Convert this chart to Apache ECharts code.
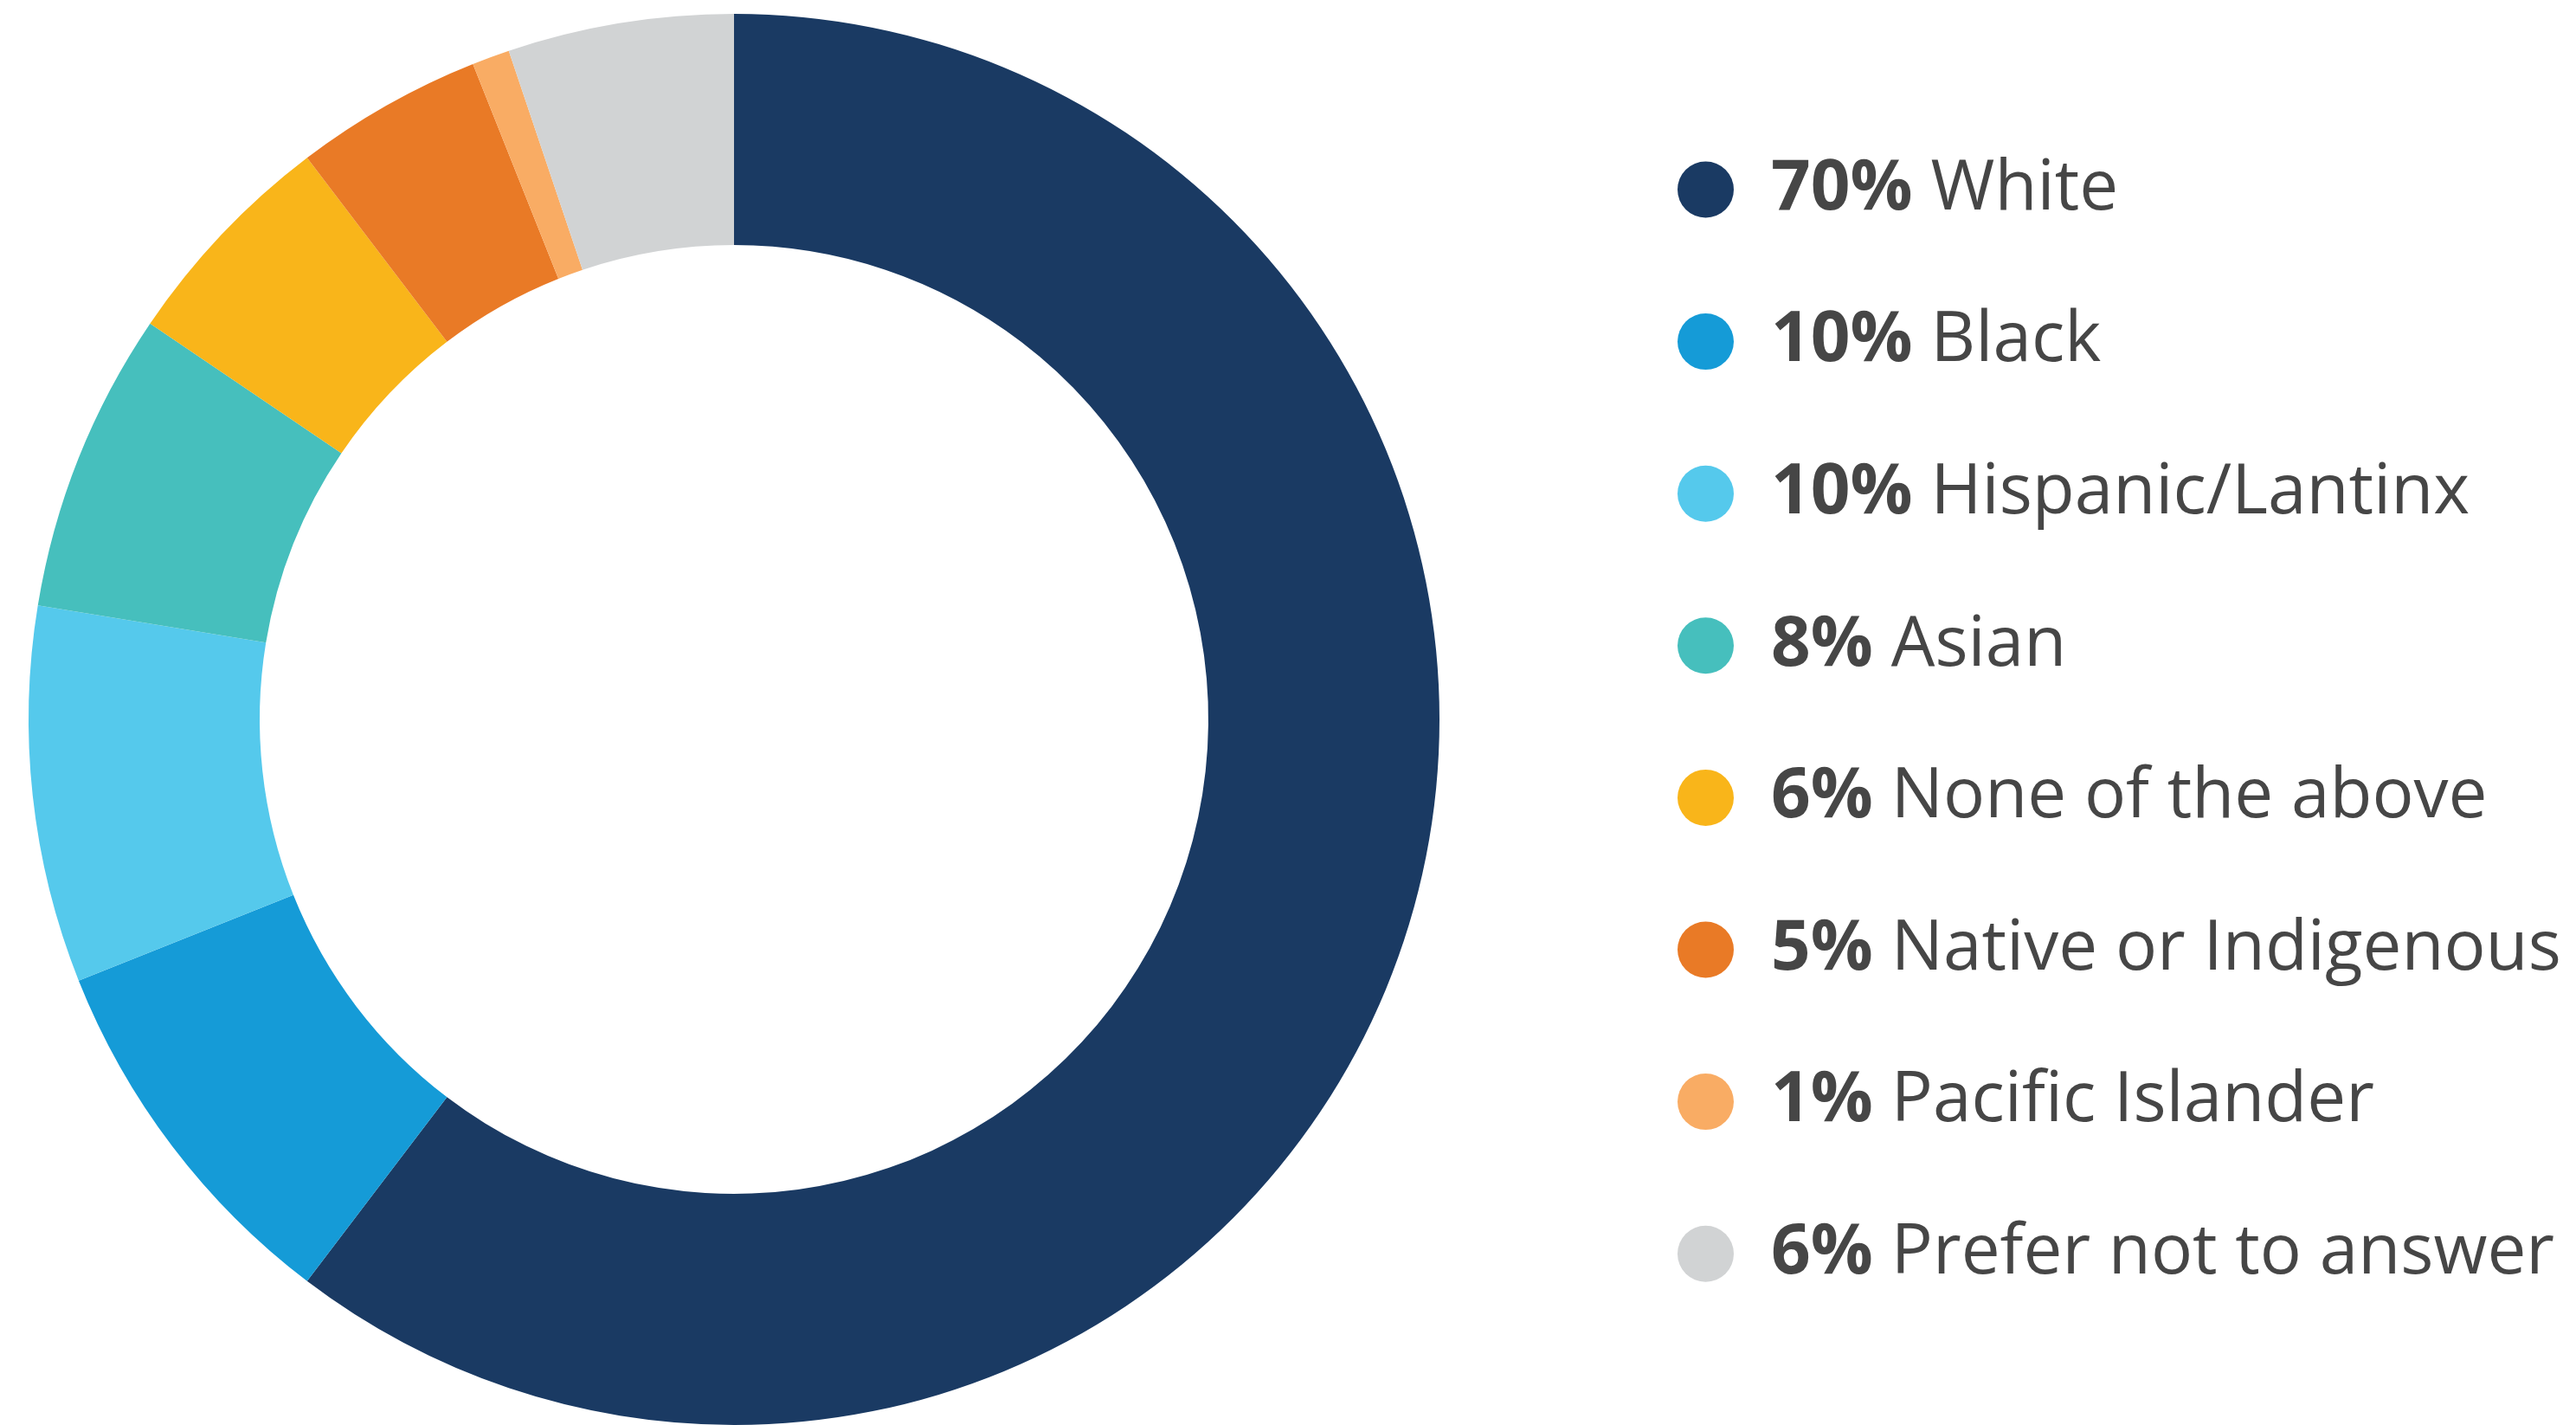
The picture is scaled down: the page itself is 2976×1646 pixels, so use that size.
<!DOCTYPE html>
<html>
<head>
<meta charset="utf-8">
<script src="https://cdn.jsdelivr.net/npm/echarts@6/dist/echarts.min.js"></script>
<style>
  html, body { margin: 0; padding: 0; background: #fff; }
  #chart { width: 2976px; height: 1646px; }
</style>
</head>
<body>
<div id="chart"></div>
<script>
const categories = ['White', 'Black', 'Hispanic/Lantinx', 'Asian', 'None of the above', 'Native or Indigenous', 'Pacific Islander', 'Prefer not to answer']
const percents = [70, 10, 10, 8, 6, 5, 1, 6]
const colors = ['#1a3a63', '#159bd7', '#55c9ec', '#46bfbd', '#f9b51a', '#e97a26', '#f9ac64', '#d1d3d4']

const chart = echarts.init(document.getElementById('chart'))

chart.setOption({
  animation: false,
  legend: {
    orient: 'vertical',
    left: 1933,
    top: 174,
    icon: 'circle',
    itemWidth: 65,
    itemHeight: 65,
    itemGap: 95.6,
    selectedMode: false,
    data: categories,
    formatter: name => {
      const i = categories.indexOf(name)
      return '{b|' + percents[i] + '%}{n|' + name + '}'
    },
    textStyle: {
      padding: [0, 0, 0, 38],
      rich: {
        b: { fontFamily: 'Open Sans', fontWeight: 'bold', fontSize: 80, color: '#464646', lineHeight: 80 },
        n: { fontFamily: 'Open Sans', fontWeight: 'normal', fontSize: 80, color: '#464646', lineHeight: 80, padding: [0, 0, 0, 21] },
      },
    },
  },
  series: [{
    type: 'pie',
    center: [848, 831],
    radius: [548, 815],
    startAngle: 90,
    clockwise: true,
    label: { show: false },
    labelLine: { show: false },
    emphasis: { disabled: true },
    data: categories.map((name, i) => ({
      name,
      value: percents[i],
      itemStyle: { color: colors[i] },
    })),
  }],
})
</script>
</body>
</html>
